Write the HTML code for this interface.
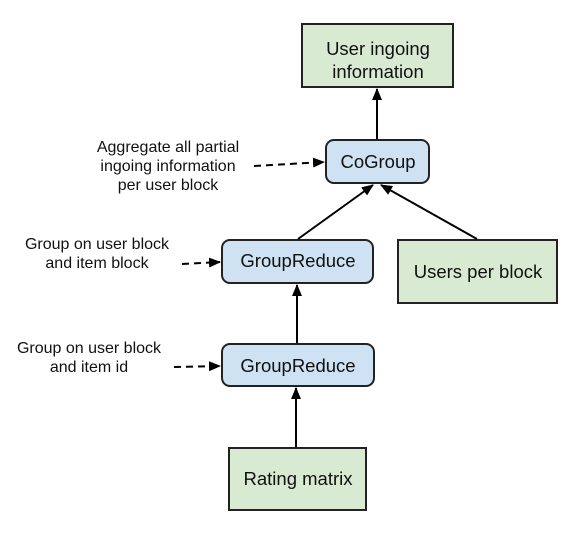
<!DOCTYPE html>
<html><head><style>
html,body{margin:0;padding:0;background:#fff;width:574px;height:533px;overflow:hidden}
text{font-family:"Liberation Sans",Arial,sans-serif;fill:#111}
</style></head><body>
<svg width="574" height="533" viewBox="0 0 574 533" xmlns="http://www.w3.org/2000/svg">
<defs>
<marker id="a" markerWidth="12" markerHeight="10" refX="11" refY="5" orient="auto" markerUnits="userSpaceOnUse">
<path d="M0,0 L12,5 L0,10 Z" fill="#000"/></marker>
</defs>
<g stroke="#222" stroke-width="2">
<rect x="302" y="24" width="151" height="63" fill="#d9ead3"/>
<rect x="326" y="140" width="103" height="43" rx="8" fill="#cfe2f3"/>
<rect x="222" y="240" width="151" height="43" rx="8" fill="#cfe2f3"/>
<rect x="398" y="240" width="159" height="63" fill="#d9ead3"/>
<rect x="222" y="344" width="152" height="42" rx="8" fill="#cfe2f3"/>
<rect x="229" y="448" width="137" height="62" fill="#d9ead3"/>
</g>
<g stroke="#000" stroke-width="2" fill="none">
<line x1="377" y1="139" x2="377" y2="89" marker-end="url(#a)"/>
<line x1="298" y1="239" x2="373" y2="185" marker-end="url(#a)"/>
<line x1="477" y1="239" x2="381" y2="185" marker-end="url(#a)"/>
<line x1="297" y1="343" x2="297" y2="285" marker-end="url(#a)"/>
<line x1="296" y1="447" x2="296" y2="388" marker-end="url(#a)"/>
<g stroke-dasharray="7,5">
<line x1="254" y1="166" x2="324" y2="162" marker-end="url(#a)"/>
<line x1="182" y1="264" x2="220" y2="262" marker-end="url(#a)"/>
<line x1="174" y1="367" x2="220" y2="366" marker-end="url(#a)"/>
</g>
</g>
<g font-size="18.5" text-anchor="middle">
<text x="378" y="55">User ingoing</text>
<text x="378" y="78">information</text>
<text x="378" y="168">CoGroup</text>
<text x="298" y="267">GroupReduce</text>
<text x="478" y="278">Users per block</text>
<text x="298" y="372">GroupReduce</text>
<text x="298" y="485">Rating matrix</text>
</g>
<g font-size="16" text-anchor="middle">
<text x="168" y="152">Aggregate all partial</text>
<text x="168" y="171">ingoing information</text>
<text x="168" y="190">per user block</text>
<text x="97" y="249">Group on user block</text>
<text x="97" y="268">and item block</text>
<text x="89" y="353">Group on user block</text>
<text x="89" y="372">and item id</text>
</g>
</svg>
</body></html>
